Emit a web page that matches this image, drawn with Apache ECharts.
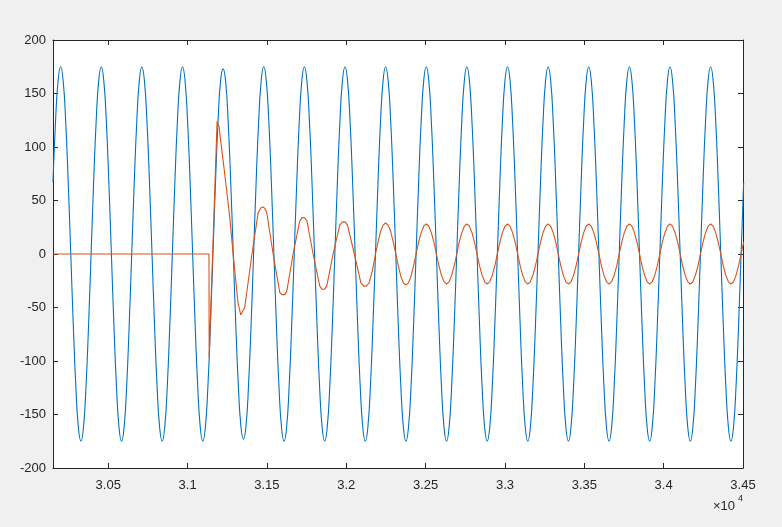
<!DOCTYPE html>
<html><head><meta charset="utf-8">
<script src="https://cdn.jsdelivr.net/npm/echarts@6/dist/echarts.min.js"></script>
<style>html,body{margin:0;padding:0;background:#f0f0f0}#c{width:782px;height:527px}</style>
</head><body><div id="c"></div>
<script>
// x-axis extent and tick values (raw units; labels shown ×10^4)
const xMin = 30152;
const xMax = 34500;
const xTicks = [30500, 31000, 31500, 32000, 32500, 33000, 33500, 34000, 34500];
const yTicks = [-200, -150, -100, -50, 0, 50, 100, 150, 200];

// Blue series: samples every 16 units starting at x = 30152
const blueStart = 30152;
const blueStep = 16;
const blueValues = [
  67,124,162,
  175,162,124,67,0,-67,-124,-162,-175,-162,-124,-67,0,67,124,162,
  175,162,124,67,0,-67,-124,-162,-175,-162,-124,-67,0,67,124,162,
  175,162,124,67,0,-67,-124,-162,-175,-162,-124,-67,0,67,124,162,
  175,162,124,67,0,-67,-124,-162,-175,-162,-124,-67,0,67,124,162,
  173,161,123,67,0,-67,-123,-161,-173,-161,-123,-67,0,67,124,162,
  175,162,124,67,0,-67,-124,-162,-175,-162,-124,-67,0,67,124,162,
  175,162,124,67,0,-67,-124,-162,-175,-162,-124,-67,0,67,124,162,
  175,162,124,67,0,-67,-124,-162,-175,-162,-124,-67,0,67,124,162,
  175,162,124,67,0,-67,-124,-162,-175,-162,-124,-67,0,67,124,162,
  175,162,124,67,0,-67,-124,-162,-175,-162,-124,-67,0,67,124,162,
  175,162,124,67,0,-67,-124,-162,-175,-162,-124,-67,0,67,124,162,
  175,162,124,67,0,-67,-124,-162,-175,-162,-124,-67,0,67,124,162,
  175,162,124,67,0,-67,-124,-162,-175,-162,-124,-67,0,67,124,162,
  175,162,124,67,0,-67,-124,-162,-175,-162,-124,-67,0,67,124,162,
  175,162,124,67,0,-67,-124,-162,-175,-162,-124,-67,0,67,124,162,
  175,162,124,67,0,-67,-124,-162,-175,-162,-124,-67,0,67,124,162,
  175,162,124,67,0,-67,-124,-162,-175,-162,-124,-67,0,67
];

// Red series: flat zero, fault transient (explicit points)...
const redTransient = [
  [30152,0],[31135,0],[31136,-96],[31138,-96],[31186,124],[31198,119],[31234,75],[31266,34],
  [31287,0],[31318,-46],[31335,-57],[31360,-50],[31403,-3],[31444,38],[31461,43],
  [31477,44],[31490,42],[31500,38],[31539,0],[31581,-36],[31595,-38],[31612,-38],
  [31625,-35],[31665,0],[31707,31],[31722,34],[31736,34],[31752,31],[31791,0],
  [31833,-30],[31848,-33],[31862,-33],[31877,-30],[31917,0],[31959,27],[31976,30],
  [31992,30],[32008,27],[32051,0],[32092,-27],[32110,-30],[32126,-30],[32144,-27],
  [32165,-15]
];
// ...then steady state, samples every 16 units from x = 32184
const redSteadyStart = 32184;
const redSteadyStep = 16;
const redSteady = [
  0,11,21,27,29,27,21,11,0,-11,-21,-27,-29,-27,-21,-11,
  0,11,20,26,28,26,20,11,0,-11,-20,-26,-28,-26,-20,-11,
  0,11,20,26,28,26,20,11,0,-11,-20,-26,-28,-26,-20,-11,
  0,11,20,26,28,26,20,11,0,-11,-20,-26,-28,-26,-20,-11,
  0,11,20,26,28,26,20,11,0,-11,-20,-26,-28,-26,-20,-11,
  0,11,20,26,28,26,20,11,0,-11,-20,-26,-28,-26,-20,-11,
  0,11,20,26,28,26,20,11,0,-11,-20,-26,-28,-26,-20,-11,
  0,11,20,26,28,26,20,11,0,-11,-20,-26,-28,-26,-20,-11,
  0,11,20,26,28,26,20,11,0,-11,-20,-26,-28,-26,-20,-11,
  0,11
];

const blueData = blueValues.map((v, i) => [blueStart + i * blueStep, v]);
const redData = redTransient.concat(redSteady.map((v, i) => [redSteadyStart + i * redSteadyStep, v]));

const FONT = '"Liberation Sans", Arial, Helvetica, sans-serif';
const AX = '#262626';

function xAxisDef(pos, labels) {
  return {
    type: 'value', position: pos, min: xMin, max: xMax, scale: true,
    axisLine: { show: true, onZero: false, lineStyle: { color: AX, width: 1 } },
    axisTick: { show: true, inside: true, length: 5, customValues: xTicks, lineStyle: { color: AX } },
    axisLabel: { show: labels, customValues: xTicks, margin: 11, color: AX, fontSize: 13, fontFamily: FONT,
      formatter: v => String(+(v / 10000).toFixed(2)) },
    splitLine: { show: false }
  };
}
function yAxisDef(pos, labels) {
  return {
    type: 'value', position: pos, min: -200, max: 200, interval: 50,
    axisLine: { show: true, onZero: false, lineStyle: { color: AX, width: 1 } },
    axisTick: { show: true, inside: true, length: 5, lineStyle: { color: AX } },
    axisLabel: { show: labels, margin: 7, color: AX, fontSize: 13, fontFamily: FONT },
    splitLine: { show: false }
  };
}

const chart = echarts.init(document.getElementById('c'), null, { renderer: 'canvas' });
chart.setOption({
  backgroundColor: '#f0f0f0',
  animation: false,
  grid: { left: 53, right: 39, top: 40, bottom: 59, show: true, backgroundColor: '#ffffff', borderWidth: 0, containLabel: false },
  xAxis: [xAxisDef('bottom', true), xAxisDef('top', false)],
  yAxis: [yAxisDef('left', true), yAxisDef('right', false)],
  series: [
    { type: 'line', data: blueData, xAxisIndex: 0, yAxisIndex: 0, showSymbol: false, smooth: true, clip: true,
      lineStyle: { color: '#0072BD', width: 1.1 } },
    { type: 'line', data: redData, xAxisIndex: 0, yAxisIndex: 0, showSymbol: false, smooth: false, clip: true,
      lineStyle: { color: '#D95319', width: 1.1 } }
  ],
  graphic: [
    { type: 'text', left: 713, top: 500, style: { text: '×10', font: '13px ' + FONT, fill: AX } },
    { type: 'text', left: 738, top: 494, style: { text: '4', font: '9px ' + FONT, fill: AX } }
  ]
});
</script>
</body></html>
